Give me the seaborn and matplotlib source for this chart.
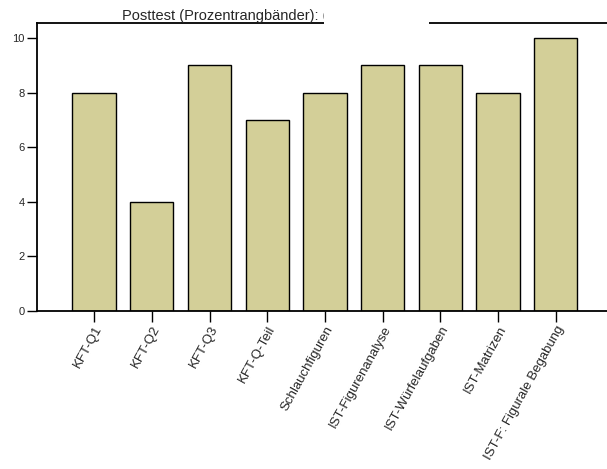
import matplotlib
matplotlib.use("Agg")
import matplotlib.pyplot as plt
import seaborn as sns
import pandas as pd
from matplotlib.patches import Rectangle

categories = ["KFT-Q1", "KFT-Q2", "KFT-Q3", "KFT-Q-Teil", "Schlauchfiguren",
              "IST-Figurenanalyse", "IST-Würfelaufgaben", "IST-Matrizen",
              "IST-F: Figurale Begabung"]
values = [8, 4, 9, 7, 8, 9, 9, 8, 10]
yticks = [0, 2, 4, 6, 8, 10]
title = "Posttest (Prozentrangbänder): ("

sns.set_style("white")
plt.rcParams['font.family'] = ['Liberation Sans', 'DejaVu Sans']

df = pd.DataFrame({"cat": categories, "val": values})

W, H = 607, 469
fig = plt.figure(figsize=(W/100, H/100), dpi=100)
ax = fig.add_axes([37/W, 1-311/H, 1-37/W, (311-23)/H])
sns.barplot(data=df, x="cat", y="val", color="#D3CF98", saturation=1,
            edgecolor="black", linewidth=1.0, width=0.75, ax=ax)
ax.set_xlim(-0.99, 8.89)
ax.set_ylim(0, 10.55)
ax.set_yticks(yticks)
ax.set_xlabel("")
ax.set_ylabel("")
for s in ["left", "bottom", "top"]:
    ax.spines[s].set_visible(True)
    ax.spines[s].set_color("black")
    ax.spines[s].set_linewidth(1.3)
ax.spines["right"].set_visible(False)
ax.tick_params(axis="y", which="major", left=True, length=7, width=1.0,
               labelsize=8, pad=2, color="black")
ax.tick_params(axis="x", which="major", bottom=True, length=8, width=1.0,
               labelsize=9.5, pad=1, color="black")
plt.setp(ax.get_xticklabels(), rotation=61, ha="right", rotation_mode="anchor")

t = fig.text(122/W, 1-20/H, title, fontsize=10.5, ha="left", va="baseline",
             zorder=3)
fig.canvas.draw()
bb = t.get_window_extent()
x0 = bb.x1 - 4
fig.patches.append(Rectangle((x0/W, 1-24/H), 105/W, 22/H,
                             transform=fig.transFigure, facecolor="white",
                             edgecolor="none", zorder=5))

fig.savefig("out.png", dpi=100)
